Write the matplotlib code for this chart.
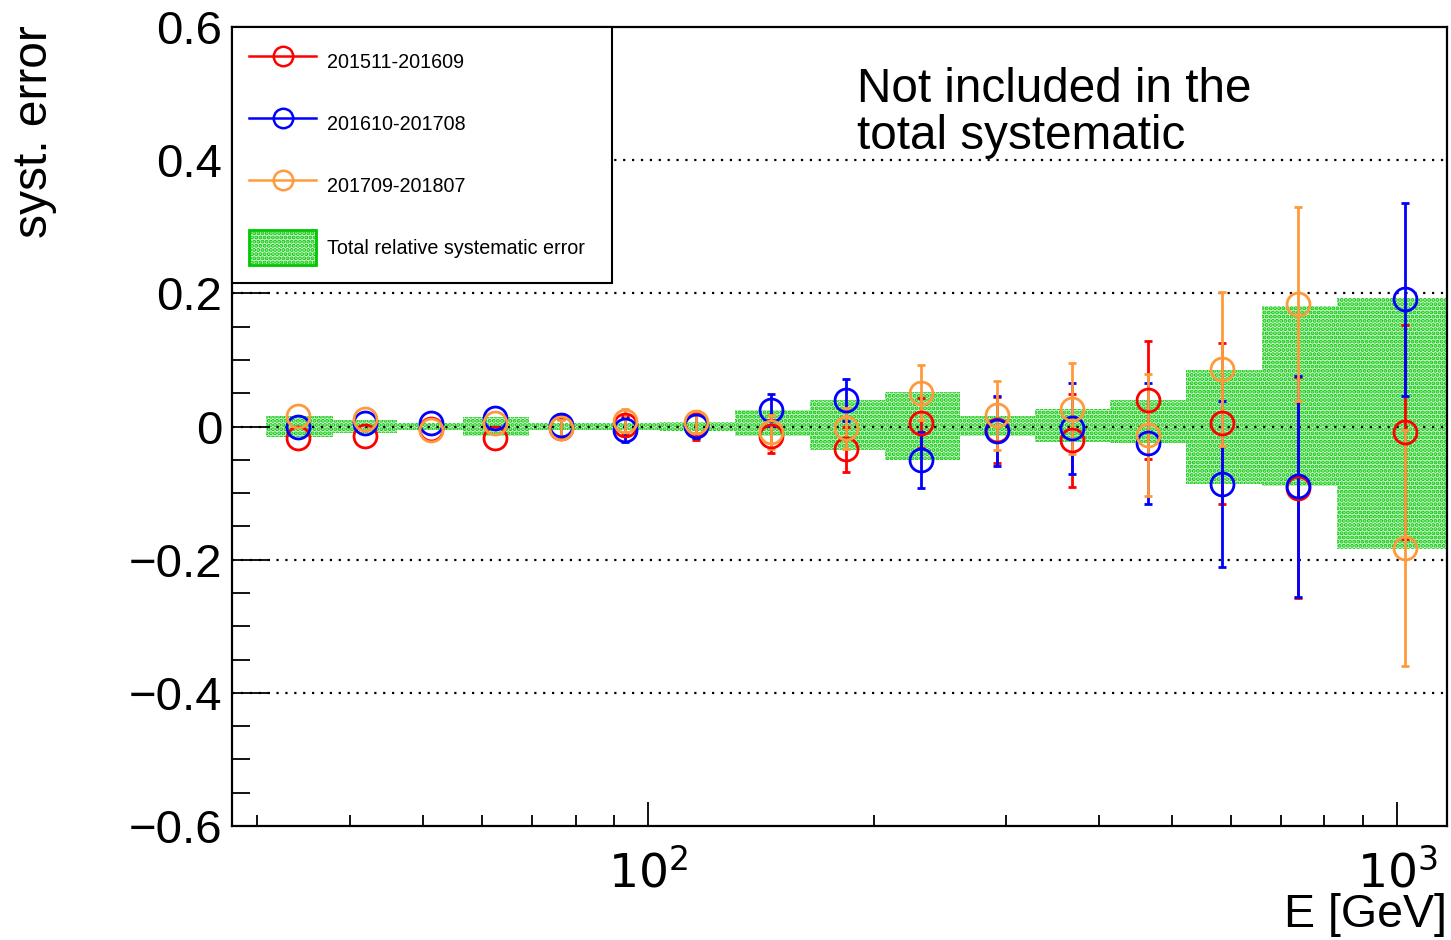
import matplotlib
matplotlib.use("Agg")
import matplotlib.pyplot as plt
import numpy as np
from matplotlib.lines import Line2D
from matplotlib.patches import Patch
from matplotlib.ticker import FixedLocator, NullFormatter, MultipleLocator

plt.rcParams['font.family'] = ['Liberation Sans', 'DejaVu Sans']
plt.rcParams['hatch.linewidth'] = 2.0

nan = float('nan')

# energy of the points [GeV]
energy = [34.1, 41.8, 51.2, 62.5, 76.5, 93.2, 115.9, 146.0, 183.8, 231.5,
          292.4, 368.3, 465.2, 584.1, 737.7, 1025.0]

red_val = [-0.017, -0.014, -0.004, -0.018, -0.003, 0.002, 0.002, -0.015, -0.034, 0.005,
           -0.005, -0.021, 0.040, 0.005, -0.092, -0.008]
red_err = [nan, nan, nan, nan, 0.015, 0.014, 0.022, 0.025, 0.034, 0.038,
           0.050, 0.070, 0.089, 0.121, 0.166, 0.161]

blue_val = [0.000, 0.005, 0.006, 0.013, 0.002, -0.005, 0.001, 0.025, 0.040, -0.050,
            -0.007, -0.003, -0.025, -0.086, -0.090, 0.191]
blue_err = [nan, nan, nan, nan, 0.017, 0.018, 0.019, 0.024, 0.031, 0.042,
            0.053, 0.068, 0.091, 0.125, 0.166, 0.145]

orange_val = [0.016, 0.012, -0.005, 0.006, -0.002, 0.009, 0.007, -0.008, -0.003, 0.051,
              0.017, 0.027, -0.013, 0.086, 0.184, -0.183]
orange_err = [nan, nan, nan, nan, 0.012, 0.018, 0.017, 0.026, 0.031, 0.041,
              0.052, 0.068, 0.092, 0.116, 0.145, 0.177]

# total relative systematic band
bin_edges = [30.9, 37.9, 46.2, 56.6, 69.2, 84.7, 103.8, 130.7, 164.6, 207.3, 261.0,
             328.6, 413.8, 522.6, 660.2, 831.7, 1264.0]
tot_up = [0.016, 0.010, 0.006, 0.015, 0.005, 0.006, 0.007, 0.025, 0.040, 0.052,
          0.016, 0.026, 0.040, 0.085, 0.181, 0.193]
tot_dn = [0.016, 0.010, 0.006, 0.015, 0.005, 0.006, 0.007, 0.015, 0.035, 0.050,
          0.015, 0.023, 0.025, 0.086, 0.090, 0.184]

labels = ["201511-201609", "201610-201708", "201709-201807"]
colors = ["#ff0000", "#0000ff", "#ff9a3c"]
green = "#00c800"
band_bg = "#d4f4d4"

fig = plt.figure(figsize=(14.51, 9.40), dpi=100)
ax = fig.add_axes([232/1451, 1 - 826/940, 1215/1451, 799/940])

edges = np.array(bin_edges)
up = np.array(tot_up)
dn = np.array(tot_dn)
ax.bar(edges[:-1], up + dn, width=np.diff(edges), bottom=-dn, align='edge',
       facecolor=band_bg, edgecolor=green, hatch='....', linewidth=0, zorder=1)

for yv in [-0.4, -0.2, 0.0, 0.2, 0.4]:
    ax.axhline(yv, color='black', ls=(0, (1, 3)), lw=1.6, zorder=2)

series = [(red_val, red_err), (blue_val, blue_err), (orange_val, orange_err)]
for (v, e), c in zip(series, colors):
    ax.errorbar(energy, v, yerr=e, fmt='o', color=c, mfc='none', mec=c, ms=16.5,
                mew=2.0, elinewidth=2.0, capsize=3, capthick=2.0, zorder=3)

ax.set_xscale('log')
ax.set_xlim(27.8, 1166)
ax.set_ylim(-0.6, 0.6)

ax.xaxis.set_major_locator(FixedLocator([100, 1000]))
ax.set_xticklabels([r'$10^{2}$', r'$10^{3}$'])
ax.xaxis.set_minor_locator(FixedLocator([30, 40, 50, 60, 70, 80, 90,
                                         200, 300, 400, 500, 600, 700, 800, 900]))
ax.xaxis.set_minor_formatter(NullFormatter())
ax.yaxis.set_minor_locator(MultipleLocator(0.05))
ax.set_yticks([-0.6, -0.4, -0.2, 0.0, 0.2, 0.4, 0.6])
ax.set_yticklabels(['\u22120.6', '\u22120.4', '\u22120.2', '0', '0.2', '0.4', '0.6'])

ax.tick_params(axis='both', which='both', direction='in', width=1.3,
               top=False, right=False, labelsize=34)
ax.tick_params(axis='y', which='major', length=27, pad=7)
ax.tick_params(axis='y', which='minor', length=13)
ax.tick_params(axis='x', which='major', length=17, pad=17)
ax.tick_params(axis='x', which='minor', length=8)
for s in ax.spines.values():
    s.set_linewidth(1.6)

fig.text(1447/1451, 1 - 915/940, 'E [GeV]', ha='right', va='center', fontsize=33.5)
fig.text(35/1451, 1 - 25/940, 'syst. error', rotation=90, ha='center', va='top', fontsize=34.5)

ax.text((857 - 232) / 1215, (826 - 113) / 799, 'Not included in the\ntotal systematic',
        transform=ax.transAxes, ha='left', va='center', fontsize=34.3, linespacing=1.08)

handles = [Line2D([], [], color=c, marker='o', mfc='none', mec=c, ms=14, mew=1.8, lw=1.8)
           for c in colors]
handles.append(Patch(facecolor=band_bg, edgecolor=green, hatch='....', linewidth=2.0))
leg = ax.legend(handles, labels + ["Total relative systematic error"],
                loc='upper left', bbox_to_anchor=(0, 1, (612 - 232) / 1215, 0),
                mode='expand', borderaxespad=0,
                fontsize=14.2, frameon=True, fancybox=False, edgecolor='black',
                framealpha=1, handlelength=3.4, handleheight=2.4, handletextpad=0.55,
                labelspacing=1.33, borderpad=0.88)
leg.get_frame().set_linewidth(1.5)
leg.set_zorder(5)

fig.savefig('out.png', dpi=100)
